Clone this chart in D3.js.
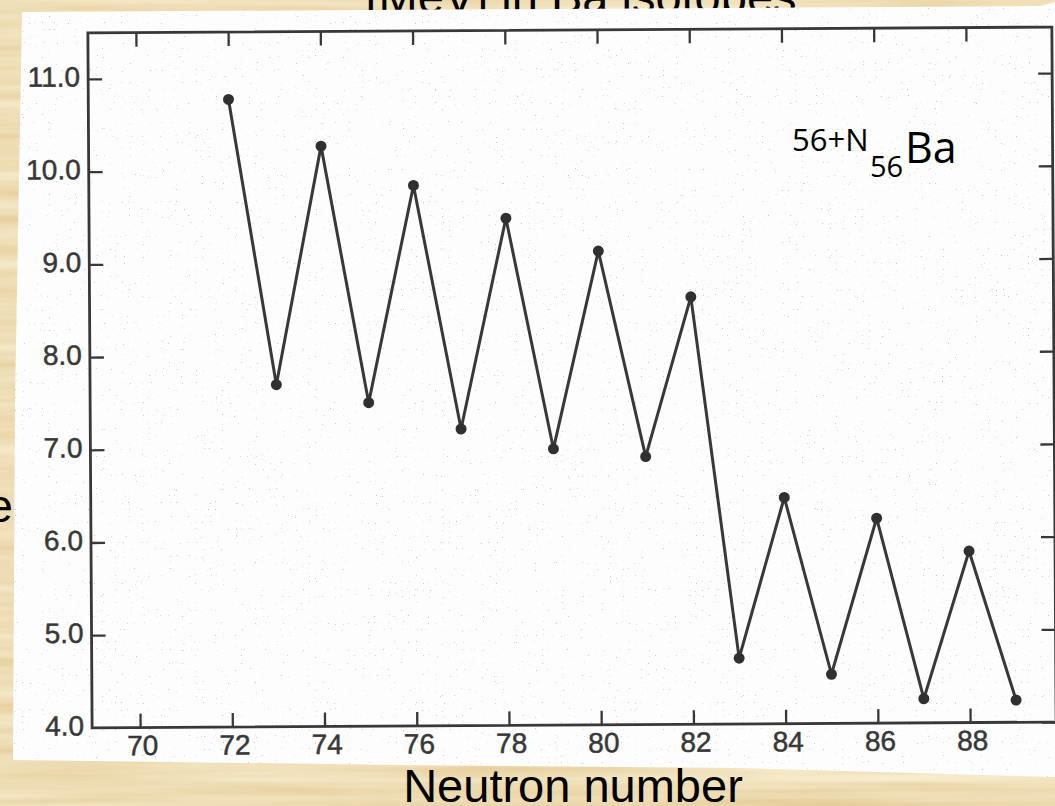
<!DOCTYPE html>
<html>
<head>
<meta charset="utf-8">
<script src="https://cdn.jsdelivr.net/npm/d3@7"></script>
<style>
  html, body { margin: 0; padding: 0; background: #e6c687; }
  svg { display: block; }
</style>
</head>
<body>
<svg id="chart" width="1055" height="806"></svg>
<script>
// ---- data ----
const neutrons = [72, 73, 74, 75, 76, 77, 78, 79, 80, 81, 82, 83, 84, 85, 86, 87, 88, 89];
const energies = [10.77, 7.69, 10.26, 7.49, 9.83, 7.20, 9.47, 6.98, 9.11, 6.89, 8.61, 4.71, 6.44, 4.53, 6.21, 4.26, 5.85, 4.24];
const xTickValues = [70, 72, 74, 76, 78, 80, 82, 84, 86, 88];
const yTickValues = [4, 5, 6, 7, 8, 9, 10, 11];
const yTickLabels = ["4.0", "5.0", "6.0", "7.0", "8.0", "9.0", "10.0", "11.0"];
const titleText = "[MeV] in Ba isotopes";
const xAxisTitle = "Neutron number";
const leftLabelText = "e";

// ---- layout ----
const W = 1055, H = 806;
const frame = { left: 90, right: 1054, top: 30, bottom: 725 };
const ink = "#383838";

const svg = d3.select("#chart");
const defs = svg.append("defs");

// parchment texture
const fP = defs.append("filter").attr("id", "parch").attr("x", 0).attr("y", 0).attr("width", "100%").attr("height", "100%");
fP.append("feTurbulence").attr("type", "fractalNoise").attr("baseFrequency", "0.003 0.07").attr("numOctaves", 3).attr("seed", 7);
fP.append("feColorMatrix").attr("type", "matrix")
  .attr("values", "0.25 0 0 0 0.75  0.42 0 0 0 0.55  0.55 0 0 0 0.24  0 0 0 0 1");

// scanner speckle
const fS = defs.append("filter").attr("id", "speck").attr("x", 0).attr("y", 0).attr("width", "100%").attr("height", "100%");
fS.append("feTurbulence").attr("type", "fractalNoise").attr("baseFrequency", "0.85").attr("numOctaves", 1).attr("seed", 3);
fS.append("feColorMatrix").attr("type", "matrix")
  .attr("values", "0 0 0 0 0.35  0 0 0 0 0.35  0 0 0 0 0.35  14 0 0 0 -10.0");

const paperPts = [[22, 12], [1040, 6], [1055, 2], [1055, 777], [740, 768], [400, 765], [13, 760], [15, 400]];
defs.append("clipPath").attr("id", "paperClip")
  .append("polygon").attr("points", paperPts.map(p => p.join(",")).join(" "));

// background parchment
svg.append("rect").attr("width", W).attr("height", H).attr("fill", "#e6c687");
svg.append("rect").attr("width", W).attr("height", H).attr("filter", "url(#parch)").attr("opacity", 0.85);

// title (cut off at the top edge, as in the reference)
svg.append("text").attr("x", 581).attr("y", 13).attr("text-anchor", "middle")
  .attr("font-family", "Liberation Sans, Arial, sans-serif").attr("font-size", 47).attr("fill", "#000")
  .text(titleText);

// paper
svg.append("polygon").attr("points", paperPts.map(p => p.join(",")).join(" ")).attr("fill", "#fdfdfd");
svg.append("rect").attr("width", W).attr("height", H).attr("clip-path", "url(#paperClip)")
  .attr("filter", "url(#speck)").attr("opacity", 0.6);

svg.append("text").attr("x", 13).attr("y", 522).attr("text-anchor", "end")
  .attr("font-family", "Liberation Sans, Arial, sans-serif").attr("font-size", 47).attr("fill", "#000")
  .text(leftLabelText);

// ---- chart (scan slightly rotated) ----
const g = svg.append("g").attr("transform", "rotate(-0.35, 570, 380)");

const x = d3.scaleLinear().domain([70, 88]).range([138, 968]);
const y = d3.scaleLinear().domain([4, 11]).range([725, 76]);

// frame
g.append("rect")
  .attr("x", frame.left).attr("y", frame.top)
  .attr("width", frame.right - frame.left).attr("height", frame.bottom - frame.top)
  .attr("fill", "none").attr("stroke", ink).attr("stroke-width", 2.8);

const tickLen = 14;
const font = "Liberation Sans, Arial, Helvetica, sans-serif";

const bottomAxis = d3.axisBottom(x).tickValues(xTickValues).tickSizeInner(-tickLen).tickSizeOuter(0).tickPadding(8).tickFormat(d3.format("d"));
const gb = g.append("g").attr("transform", `translate(0,${frame.bottom})`).call(bottomAxis);
const topAxis = d3.axisTop(x).tickValues(xTickValues).tickSizeInner(-tickLen).tickSizeOuter(0).tickFormat("");
const gt = g.append("g").attr("transform", `translate(0,${frame.top})`).call(topAxis);
const leftAxis = d3.axisLeft(y).tickValues(yTickValues).tickSizeInner(-tickLen).tickSizeOuter(0).tickPadding(8)
  .tickFormat(d => yTickLabels[yTickValues.indexOf(d)]);
const gl = g.append("g").attr("transform", `translate(${frame.left},0)`).call(leftAxis);
const rightAxis = d3.axisRight(y).tickValues(yTickValues).tickSizeInner(-tickLen).tickSizeOuter(0).tickFormat("");
const gr = g.append("g").attr("transform", `translate(${frame.right},0)`).call(rightAxis);

[gb, gt, gl, gr].forEach(a => {
  a.select(".domain").remove();
  a.selectAll(".tick line").attr("stroke", ink).attr("stroke-width", 2.3);
  a.selectAll(".tick text").attr("fill", ink).attr("stroke", ink).attr("stroke-width", 0.5)
    .attr("font-family", font).attr("font-size", 28);
});
gb.selectAll(".tick text").attr("dy", null).attr("y", 27.5).attr("dx", 2);
gl.selectAll(".tick text").attr("dy", "0.25em");
gl.selectAll(".tick").filter(d => d === 4).select("line").remove();

// data line and points
const line = d3.line().x((d, i) => x(neutrons[i])).y(d => y(d));
g.append("path").datum(energies).attr("d", line)
  .attr("fill", "none").attr("stroke", ink).attr("stroke-width", 3).attr("stroke-linejoin", "miter");
g.selectAll("circle.pt").data(energies).enter().append("circle").attr("class", "pt")
  .attr("cx", (d, i) => x(neutrons[i])).attr("cy", d => y(d)).attr("r", 5.5).attr("fill", "#303030");

// isotope label
const lab = svg.append("text").attr("font-family", "Open Sans, Noto Sans, sans-serif").attr("fill", "#000");
lab.append("tspan").attr("x", 792).attr("y", 151).attr("font-size", 31).text("56+N");
lab.append("tspan").attr("x", 870).attr("y", 177).attr("font-size", 29).text("56");
lab.append("tspan").attr("x", 905).attr("y", 163).attr("font-size", 43).text("Ba");

// x axis title
svg.append("text").attr("x", 573).attr("y", 802).attr("text-anchor", "middle")
  .attr("font-family", "Liberation Sans, Arial, sans-serif").attr("font-size", 47).attr("fill", "#000")
  .text(xAxisTitle);
</script>
</body>
</html>
